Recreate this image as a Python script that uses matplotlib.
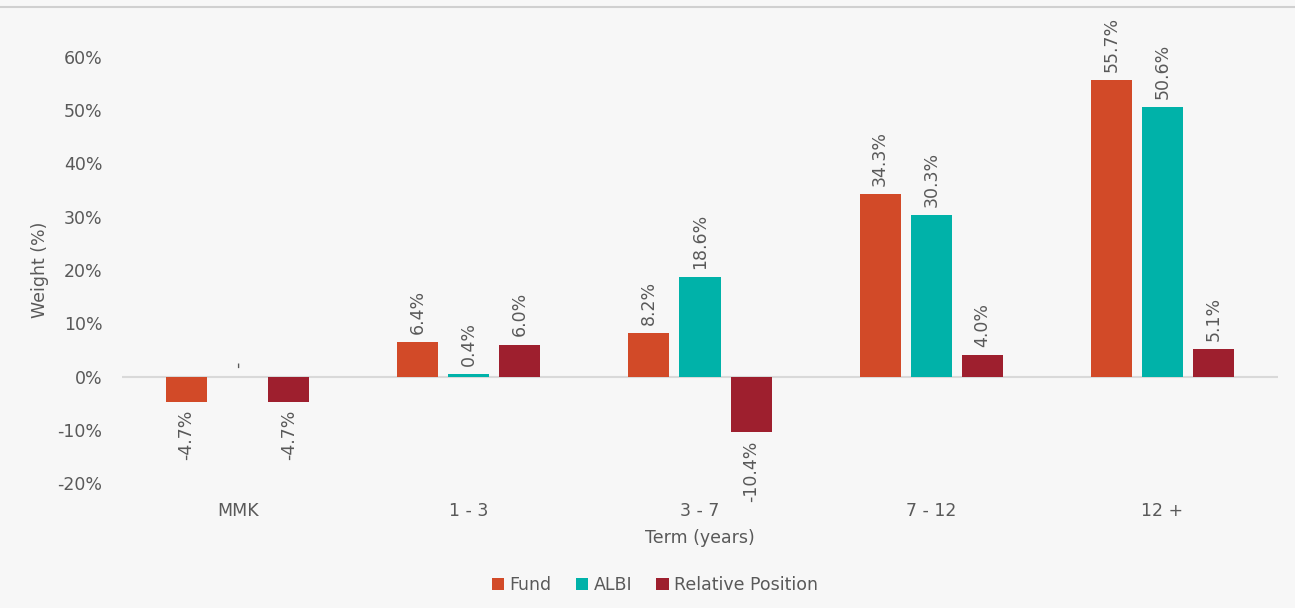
import matplotlib
matplotlib.use("Agg")
import matplotlib.pyplot as plt
from matplotlib.lines import Line2D
import numpy as np

categories = ["MMK", "1 - 3", "3 - 7", "7 - 12", "12 +"]
fund = [-4.7, 6.4, 8.2, 34.3, 55.7]
albi = [0.0, 0.4, 18.6, 30.3, 50.6]
relative = [-4.7, 6.0, -10.4, 4.0, 5.1]
albi_labels = ["-", "0.4%", "18.6%", "30.3%", "50.6%"]
yticks = [-20, -10, 0, 10, 20, 30, 40, 50, 60]

series = [("Fund", fund, "#D24A28"), ("ALBI", albi, "#00B2A9"), ("Relative Position", relative, "#9E1F2E")]

plt.rcParams['font.family'] = ['DejaVu Sans']
txt = "#595959"
bg = "#F7F7F7"

fig = plt.figure(figsize=(12.95, 6.08), dpi=100, facecolor=bg)
ax = fig.add_axes([122/1295, 1-483/608, (1278-122)/1295, (483-57)/608], facecolor=bg)

x = np.arange(len(categories))
offset = 0.221
width = 0.178
for i, (name, vals, col) in enumerate(series):
    pos = x + (i-1)*offset
    bars = ax.bar(pos, vals, width, color=col, label=name, zorder=3)
    for j, (p, v) in enumerate(zip(pos, vals)):
        if name == "ALBI":
            lab = albi_labels[j]
        else:
            lab = f"{v:.1f}%"
        if v >= 0:
            ax.annotate(lab, (p, v), xytext=(0, 6), textcoords="offset points",
                        rotation=90, ha="center", va="bottom", fontsize=12.5, color=txt,
                        annotation_clip=False)
        else:
            ax.annotate(lab, (p, v), xytext=(0, -6), textcoords="offset points",
                        rotation=90, ha="center", va="top", fontsize=12.5, color=txt,
                        annotation_clip=False)

ax.axhline(0, color="#D9D9D9", lw=1.5, zorder=2)
ax.set_xlim(-0.5, len(categories)-0.5)
ax.set_ylim(-20, 60)
ax.set_yticks(yticks)
ax.set_yticklabels([f"{t}%" for t in yticks])
ax.set_xticks(x)
ax.set_xticklabels(categories)
ax.tick_params(axis="both", length=0, labelsize=12.5, colors=txt)
ax.tick_params(axis="y", pad=14)
ax.tick_params(axis="x", pad=14)
for s in ax.spines.values():
    s.set_visible(False)
ax.set_ylabel("Weight (%)", fontsize=12.5, color=txt, labelpad=6)
ax.set_xlabel("Term (years)", fontsize=12.5, color=txt, labelpad=6)

leg = fig.legend(loc="center", bbox_to_anchor=(655/1295, 1-585/608), ncol=3, frameon=False,
                 fontsize=12.5, handlelength=0.7, handleheight=0.7, handletextpad=0.3,
                 columnspacing=1.4, labelcolor=txt)

fig.add_artist(Line2D([0, 1], [1-7/608, 1-7/608], color="#D0D0D0", lw=1.5, transform=fig.transFigure))

fig.savefig("out.png", dpi=100, facecolor=bg)
